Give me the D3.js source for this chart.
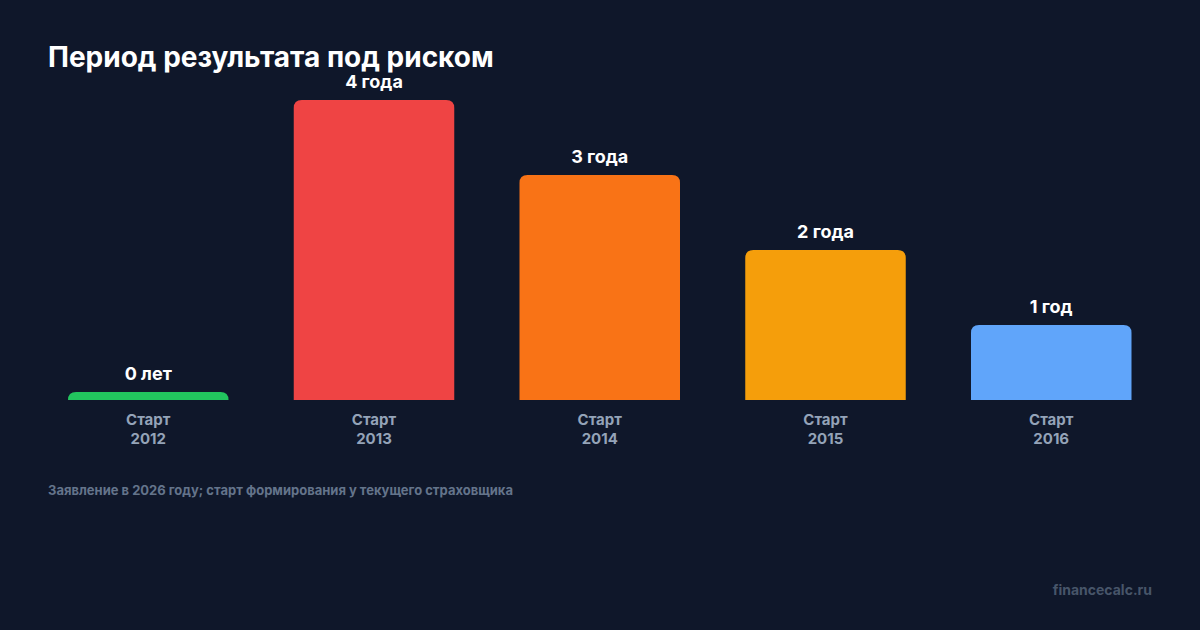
<!DOCTYPE html>
<html>
<head>
<meta charset="utf-8">
<title>Период результата под риском</title>
<script src="https://cdn.jsdelivr.net/npm/d3@7"></script>
<style>
    body { margin: 0; padding: 0; background: #0f172a; }
    svg { display: block; font-family: Inter, "Noto Sans", sans-serif; }
</style>
</head>
<body>
<svg id="chart" width="1200" height="630"></svg>
<script>
    // данные
    var starts = ["2012", "2013", "2014", "2015", "2016"];
    var years = [0, 4, 3, 2, 1];
    var valueLabels = ["0 лет", "4 года", "3 года", "2 года", "1 год"];
    var colors = ["#22c55e", "#ef4444", "#f97316", "#f59e0b", "#60a5fa"];

    var W = 1200, H = 630;
    var svg = d3.select("#chart");

    svg.append("rect").attr("width", W).attr("height", H).attr("fill", "#0f172a");

    svg.append("text")
        .attr("x", 48).attr("y", 67)
        .attr("fill", "#ffffff")
        .attr("font-size", 28).attr("font-weight", 700)
        .text("Период результата под риском");

    var x = d3.scaleBand()
        .domain(starts)
        .range([68, 1131.5])
        .paddingInner(0.289)
        .paddingOuter(0);

    var y = d3.scaleLinear().domain([0, 4]).range([400, 100]);

    var minH = 8, r = 8;

    // столбик со скруглёнными верхними углами
    function barPath(d, i) {
        var x0 = x(starts[i]), w = x.bandwidth();
        var top = Math.min(y(d), 400 - minH);
        var h = 400 - top;
        var rr = Math.min(r, h);
        return "M" + x0 + ",400" +
            "V" + (top + rr) +
            "Q" + x0 + "," + top + " " + (x0 + rr) + "," + top +
            "H" + (x0 + w - rr) +
            "Q" + (x0 + w) + "," + top + " " + (x0 + w) + "," + (top + rr) +
            "V400Z";
    }

    var g = svg.append("g");

    g.selectAll("path.bar")
        .data(years)
        .enter()
        .append("path")
        .attr("class", "bar")
        .attr("fill", function (d, i) { return colors[i]; })
        .attr("d", barPath);

    g.selectAll("text.val")
        .data(years)
        .enter()
        .append("text")
        .attr("class", "val")
        .attr("x", function (d, i) { return x(starts[i]) + x.bandwidth() / 2; })
        .attr("y", function (d) { return Math.min(y(d), 400 - minH) - 12; })
        .attr("text-anchor", "middle")
        .attr("fill", "#ffffff")
        .attr("font-size", 18).attr("font-weight", 700)
        .text(function (d, i) { return valueLabels[i]; });

    var xl = g.selectAll("text.xl")
        .data(starts)
        .enter()
        .append("text")
        .attr("class", "xl")
        .attr("text-anchor", "middle")
        .attr("fill", "#94a3b8")
        .attr("font-size", 15).attr("font-weight", 700);
    xl.append("tspan")
        .attr("x", function (d) { return x(d) + x.bandwidth() / 2; })
        .attr("y", 425)
        .text("Старт");
    xl.append("tspan")
        .attr("x", function (d) { return x(d) + x.bandwidth() / 2; })
        .attr("y", 444)
        .text(function (d) { return d; });

    svg.append("text")
        .attr("x", 48).attr("y", 495)
        .attr("fill", "#64748b")
        .attr("font-size", 13).attr("font-weight", 700)
        .text("Заявление в 2026 году; старт формирования у текущего страховщика");

    svg.append("text")
        .attr("x", 1152).attr("y", 595)
        .attr("text-anchor", "end")
        .attr("fill", "#475569")
        .attr("font-size", 14).attr("font-weight", 700)
        .text("financecalc.ru");
</script>
</body>
</html>
